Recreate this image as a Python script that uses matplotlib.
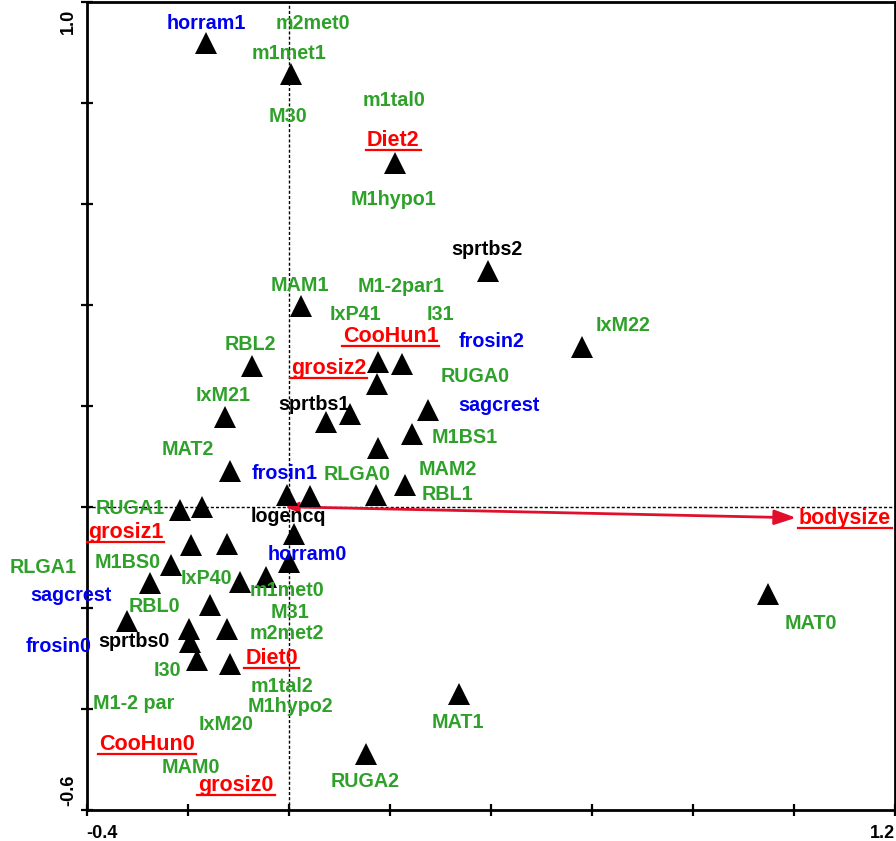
import matplotlib
matplotlib.use('Agg')
import matplotlib.pyplot as plt
from matplotlib.lines import Line2D
from matplotlib.transforms import ScaledTranslation

plt.rcParams['font.family'] = ['Liberation Sans', 'DejaVu Sans']

# ---- species / sample scores (triangles) ----
tri_x = [-0.164, 0.004, 0.210, 0.024, -0.073, 0.176, 0.224, 0.174, -0.127, 0.073,
         0.121, 0.275, 0.244, 0.176, -0.117, 0.231, -0.004, 0.042, 0.173, -0.216,
         -0.172, 0.011, -0.194, -0.122, 0.000, -0.233, -0.096, -0.044, -0.275, -0.156,
         -0.321, -0.197, -0.195, -0.122, -0.182, -0.116, 0.1525, 0.394, 0.581, 0.950,
         0.338]
tri_y = [0.917, 0.856, 0.680, 0.397, 0.279, 0.286, 0.283, 0.244, 0.177, 0.168,
         0.183, 0.191, 0.144, 0.117, 0.071, 0.044, 0.024, 0.022, 0.024, -0.007,
         -0.001, -0.054, -0.076, -0.074, -0.110, -0.116, -0.149, -0.139, -0.150, -0.194,
         -0.225, -0.2415, -0.268, -0.241, -0.303, -0.311, -0.489, 0.467, 0.317, -0.172,
         -0.370]

# ---- green class labels ----
green_names = ['m2met0', 'm1met1', 'M30', 'm1tal0', 'M1hypo1', 'MAM1', 'M1-2par1',
               'IxP41', 'I31', 'IxM22', 'RBL2', 'RUGA0', 'IxM21', 'M1BS1', 'MAT2',
               'MAM2', 'RLGA0', 'RBL1', 'RUGA1', 'RLGA1', 'M1BS0', 'IxP40', 'm1met0',
               'RBL0', 'M31', 'm2met2', 'I30', 'm1tal2', 'M1-2 par', 'M1hypo2',
               'IxM20', 'MAM0', 'RUGA2', 'MAT1', 'MAT0']
green_x = [0.047, 0.001, -0.002, 0.209, 0.2075, 0.022, 0.222,
           0.133, 0.301, 0.6615, -0.076, 0.370, -0.130, 0.349, -0.199,
           0.315, 0.136, 0.3137, -0.313, -0.4865, -0.318, -0.1626, -0.0028,
           -0.2665, 0.0022, -0.003, -0.2396, -0.0142, -0.3078, 0.0028,
           -0.1248, -0.1933, 0.1515, 0.335, 1.0334]
green_y = [0.946, 0.887, 0.761, 0.794, 0.597, 0.427, 0.425,
           0.369, 0.369, 0.347, 0.310, 0.247, 0.209, 0.127, 0.102,
           0.0625, 0.054, 0.0144, -0.0133, -0.1307, -0.122, -0.1537, -0.1768,
           -0.2079, -0.2209, -0.2619, -0.3345, -0.366, -0.4003, -0.4057,
           -0.4419, -0.5275, -0.5552, -0.4385, -0.2427]

# ---- blue class labels ----
blue_names = ['horram1', 'frosin2', 'sagcrest', 'frosin1', 'horram0', 'sagcrest', 'frosin0']
blue_x = [-0.164, 0.401, 0.4166, -0.0077, 0.036, -0.4307, -0.456]
blue_y = [0.946, 0.316, 0.190, 0.056, -0.1056, -0.1867, -0.288]

# ---- black class labels ----
black_names = ['sprtbs2', 'sprtbs1', 'logencq', 'sprtbs0']
black_x = [0.393, 0.050, -0.0004, -0.3068]
black_y = [0.499, 0.191, -0.030, -0.2783]

# ---- red (environmental) labels ----
red_names = ['Diet2', 'CooHun1', 'grosiz2', 'grosiz1', 'Diet0', 'CooHun0', 'grosiz0']
red_x = [0.207, 0.2016, 0.079, -0.3227, -0.034, -0.280, -0.104]
red_y = [0.715, 0.326, 0.262, -0.062, -0.3113, -0.4814, -0.5619]

# ---- quantitative variable arrow ----
arrow_name = 'bodysize'
arrow_x = 1.0046
arrow_y = -0.0217
small_arrow_x = -0.006
small_arrow_y = -0.001

x_ticks = [-0.4, -0.2, 0.0, 0.2, 0.4, 0.6, 0.8, 1.0, 1.2]
x_ticklabels = ['-0.4', '', '', '', '', '', '', '', '1.2']
y_ticks = [-0.6, -0.4, -0.2, 0.0, 0.2, 0.4, 0.6, 0.8, 1.0]
y_ticklabels = ['-0.6', '', '', '', '', '', '', '', '1.0']

GREEN = '#2fa12a'
BLUE = '#0000f0'
RED = '#ff0000'
ARROW = '#e0102c'

W, H = 896, 841
fig = plt.figure(figsize=(W / 100, H / 100), dpi=100)
ax = fig.add_axes([86.7 / W, 31 / H, 808 / W, 808.5 / H])
ax.set_xlim(-0.4, 1.2)
ax.set_ylim(-0.6, 1.0)

for s in ax.spines.values():
    s.set_linewidth(2)
    s.set_color('black')

ax.set_xticks(x_ticks)
ax.set_xticklabels(x_ticklabels)
ax.set_yticks(y_ticks)
ax.set_yticklabels(y_ticklabels, rotation=90)
ax.tick_params(axis='both', direction='inout', length=8, width=1.6, colors='black',
               labelsize=13)
ax.tick_params(axis='x', pad=6.5)
ax.tick_params(axis='y', pad=3.0)
for lab in ax.get_xticklabels() + ax.get_yticklabels():
    lab.set_fontweight('bold')
xl = ax.get_xticklabels()
xl[0].set_ha('left')
xl[-1].set_ha('right')
yl = ax.get_yticklabels()
for lab in yl:
    lab.set_ha('right')
yl[0].set_va('bottom')
yl[0].set_transform(yl[0].get_transform() + ScaledTranslation(0, 3 / 72, fig.dpi_scale_trans))
yl[-1].set_va('top')
yl[-1].set_transform(yl[-1].get_transform() + ScaledTranslation(0, -5 / 72, fig.dpi_scale_trans))

# reference dashed axes through origin
ax.axhline(0, color='black', lw=1, ls=(0, (2.2, 1.5)), zorder=1)
ax.axvline(0, color='black', lw=1, ls=(0, (2.2, 1.5)), zorder=1)

# arrows
ax.annotate('', xy=(arrow_x, arrow_y), xytext=(0, 0),
            arrowprops=dict(arrowstyle='-|>,head_length=1.3,head_width=0.45',
                            color=ARROW, lw=2, shrinkA=0, shrinkB=0,
                            mutation_scale=10), zorder=2)
ax.annotate('', xy=(small_arrow_x, small_arrow_y), xytext=(0.02, small_arrow_y),
            arrowprops=dict(arrowstyle='-|>,head_length=0.8,head_width=0.32',
                            color=ARROW, lw=1.5, shrinkA=0, shrinkB=0,
                            mutation_scale=10), zorder=2)

# triangles
ax.plot(tri_x, tri_y, linestyle='none', marker='^', color='black', ms=15.5,
        mew=0, zorder=3, clip_on=False)

FS = 14.2
for names, xs, ys, col in [(green_names, green_x, green_y, GREEN),
                           (blue_names, blue_x, blue_y, BLUE),
                           (black_names, black_x, black_y, 'black')]:
    for n, x, y in zip(names, xs, ys):
        ax.text(x, y, n, color=col, fontsize=FS, fontweight='bold', ha='center',
                va='baseline', zorder=4, clip_on=False)

red_texts = []
for n, x, y in zip(red_names, red_x, red_y):
    t = ax.text(x, y, n, color=RED, fontsize=15.5, fontweight='bold', ha='center',
                va='baseline', zorder=4, clip_on=False)
    red_texts.append((t, x, y))
t = ax.text(arrow_x + 0.0051, arrow_y - 0.0127, arrow_name, color=RED, fontsize=15.5,
            fontweight='bold', ha='left', va='baseline', zorder=4, clip_on=False)
red_texts.append((t, arrow_x + 0.0051, arrow_y - 0.0127))

# underline red labels
fig.canvas.draw()
renderer = fig.canvas.get_renderer()
inv = fig.transFigure.inverted()
for t, x, y in red_texts:
    bb = t.get_window_extent(renderer)
    _, yb = ax.transData.transform((x, y))
    yline = yb - 4
    (fx0, fy), (fx1, _) = inv.transform([(bb.x0 - 1, yline), (bb.x1 + 1, yline)])
    fig.add_artist(Line2D([fx0, fx1], [fy, fy], color=RED, lw=1.6, zorder=5))

fig.savefig('out.png', dpi=100)
